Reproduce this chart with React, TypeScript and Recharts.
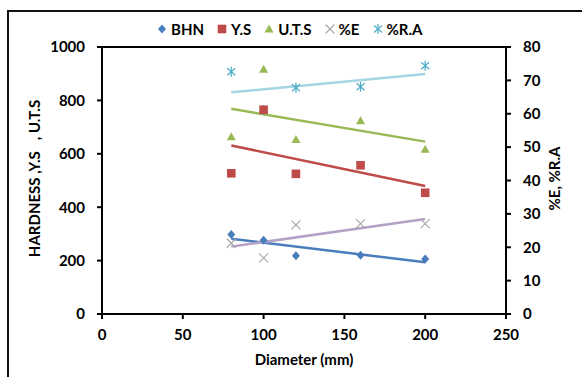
import { ScatterChart, Scatter, XAxis, YAxis, ReferenceLine, Legend, Label } from "recharts";

const diameters = [80, 100, 120, 160, 200];
const bhn = [298, 276, 218, 220, 206];
const yieldStrength = [527, 765, 525, 557, 454];
const uts = [664, 917, 654, 724, 617];
const elongation = [21.2, 16.8, 26.7, 27.1, 27.1];
const reduction = [72.6, 61.1, 67.8, 68.1, 74.4];

const xTicks = [0, 50, 100, 150, 200, 250];
const leftTicks = [0, 200, 400, 600, 800, 1000];
const rightTicks = [0, 10, 20, 30, 40, 50, 60, 70, 80];

const SERIES = [
  { name: "BHN", values: bhn, axis: "left", color: "#4A7EBB", trend: "#4A7EBB", marker: "diamond" },
  { name: "Y.S", values: yieldStrength, axis: "left", color: "#BE4B48", trend: "#BE4B48", marker: "square" },
  { name: "U.T.S", values: uts, axis: "left", color: "#98B954", trend: "#98B954", marker: "triangle" },
  { name: "%E", values: elongation, axis: "right", color: "#A6A6A6", trend: "#B3A2C7", marker: "cross" },
  { name: "%R.A", values: reduction, axis: "right", color: "#4BACC6", trend: "#A5D5E2", marker: "asterisk" },
];

const FONT = "Lato, 'Liberation Sans', sans-serif";

const toPoints = (values: number[]) => diameters.map((x, i) => ({ x, y: values[i] }));

// excel-style linear trendline over the data range
function trendPoints(values: number[]) {
  const n = values.length;
  const mx = diameters.reduce((a, b) => a + b, 0) / n;
  const my = values.reduce((a, b) => a + b, 0) / n;
  let sxy = 0;
  let sxx = 0;
  diameters.forEach((x, i) => {
    sxy += (x - mx) * (values[i] - my);
    sxx += (x - mx) * (x - mx);
  });
  const slope = sxy / sxx;
  const x0 = Math.min(...diameters);
  const x1 = Math.max(...diameters);
  return [
    { x: x0, y: my + slope * (x0 - mx) },
    { x: x1, y: my + slope * (x1 - mx) },
  ];
}

function drawMarker(kind: string, cx: number, cy: number, color: string) {
  switch (kind) {
    case "diamond":
      return <polygon points={`${cx},${cy - 4.5} ${cx + 4},${cy} ${cx},${cy + 4.5} ${cx - 4},${cy}`} fill={color} />;
    case "square":
      return <rect x={cx - 4.3} y={cy - 4.3} width={8.6} height={8.6} fill={color} />;
    case "triangle":
      return <polygon points={`${cx},${cy - 4.5} ${cx + 4.5},${cy + 3.5} ${cx - 4.5},${cy + 3.5}`} fill={color} />;
    case "cross":
      return (
        <g stroke={color} strokeWidth={1.1}>
          <line x1={cx - 4.5} y1={cy - 4.5} x2={cx + 4.5} y2={cy + 4.5} />
          <line x1={cx - 4.5} y1={cy + 4.5} x2={cx + 4.5} y2={cy - 4.5} />
        </g>
      );
    default:
      return (
        <g stroke={color} strokeWidth={1.2}>
          <line x1={cx - 4} y1={cy - 3.5} x2={cx + 4} y2={cy + 3.5} />
          <line x1={cx - 4} y1={cy + 3.5} x2={cx + 4} y2={cy - 3.5} />
          <line x1={cx} y1={cy - 5} x2={cx} y2={cy + 5} />
        </g>
      );
  }
}

function LegendContent() {
  return (
    <div style={{ display: "flex", alignItems: "center", fontFamily: FONT, fontWeight: 700, fontSize: 15, color: "#000" }}>
      {SERIES.map((s) => (
        <span key={s.name} style={{ display: "flex", alignItems: "center", marginRight: 13 }}>
          <svg width={10} height={10}>{drawMarker(s.marker, 5, 5, s.color)}</svg>
          <span style={{ marginLeft: 4 }}>{s.name}</span>
        </span>
      ))}
    </div>
  );
}

const tickStyle = { fill: "#000", fontSize: 15, fontWeight: 700, fontFamily: FONT };
const axisLine = { stroke: "#000", strokeWidth: 2 };

export default function App() {
  // markers for %R.A sit underneath the other series
  const markerOrder = [SERIES[4], SERIES[0], SERIES[1], SERIES[2], SERIES[3]];
  return (
    <div style={{ position: "absolute", left: 0, top: 0, width: 582, height: 377, overflow: "hidden", background: "#fff" }}>
      <div style={{ position: "absolute", left: 7, top: 10, width: 700, height: 500, border: "2px solid #111" }} />
      <div style={{ position: "absolute", left: 0, top: 0 }}>
        <ScatterChart width={582} height={377} margin={{ top: 47, right: 0, bottom: 0, left: 0 }}>
          <XAxis
            type="number"
            dataKey="x"
            domain={[0, 250]}
            ticks={xTicks}
            tick={tickStyle}
            tickSize={5}
            tickMargin={10}
            axisLine={axisLine}
            tickLine={axisLine}
            height={63}
          >
            <Label
              value="Diameter (mm)"
              position="insideBottom"
              offset={12}
              style={{ fill: "#000", fontSize: 15, fontWeight: 700, fontFamily: FONT }}
            />
          </XAxis>
          <YAxis
            yAxisId="left"
            type="number"
            dataKey="y"
            domain={[0, 1000]}
            ticks={leftTicks}
            tick={tickStyle}
            tickSize={5}
            tickMargin={12}
            axisLine={axisLine}
            tickLine={axisLine}
            width={102}
          >
            <Label
              content={(props: any) => {
                const vb = props.viewBox;
                const x = vb.x + 34;
                const y = vb.y + vb.height / 2 - 2;
                return (
                  <text
                    x={x}
                    y={y}
                    transform={`rotate(-90 ${x} ${y})`}
                    textAnchor="middle"
                    dominantBaseline="central"
                    style={{ whiteSpace: "pre", fill: "#000", fontSize: 15, fontWeight: 700, fontFamily: FONT }}
                  >
                    {"HARDNESS ,Y.S   , U.T.S"}
                  </text>
                );
              }}
            />
          </YAxis>
          <YAxis
            yAxisId="right"
            orientation="right"
            type="number"
            dataKey="y"
            domain={[0, 80]}
            ticks={rightTicks}
            tick={tickStyle}
            tickSize={5}
            tickMargin={12}
            axisLine={axisLine}
            tickLine={axisLine}
            width={76}
          >
            <Label
              content={(props: any) => {
                const vb = props.viewBox;
                const x = vb.x + 48;
                const y = vb.y + vb.height / 2 - 2;
                return (
                  <text
                    x={x}
                    y={y}
                    transform={`rotate(-90 ${x} ${y})`}
                    textAnchor="middle"
                    dominantBaseline="central"
                    style={{ fill: "#000", fontSize: 15, fontWeight: 700, fontFamily: FONT }}
                  >
                    %E, %R.A
                  </text>
                );
              }}
            />
          </YAxis>
          <ReferenceLine yAxisId="left" y={1000} stroke="#000" strokeWidth={2} />
          <Legend
            verticalAlign="middle"
            content={<LegendContent />}
            wrapperStyle={{ top: 20, left: 157, width: 320 }}
          />
          {SERIES.map((s) => (
            <Scatter
              key={`trend-${s.name}`}
              name={`trend-${s.name}`}
              yAxisId={s.axis}
              data={trendPoints(s.values)}
              line={{ stroke: s.trend, strokeWidth: 2.5 }}
              shape={() => <g />}
              legendType="none"
              isAnimationActive={false}
            />
          ))}
          {markerOrder.map((s) => (
            <Scatter
              key={s.name}
              name={s.name}
              yAxisId={s.axis}
              data={toPoints(s.values)}
              shape={(p: any) => drawMarker(s.marker, p.cx, p.cy, s.color)}
              isAnimationActive={false}
            />
          ))}
        </ScatterChart>
      </div>
    </div>
  );
}
